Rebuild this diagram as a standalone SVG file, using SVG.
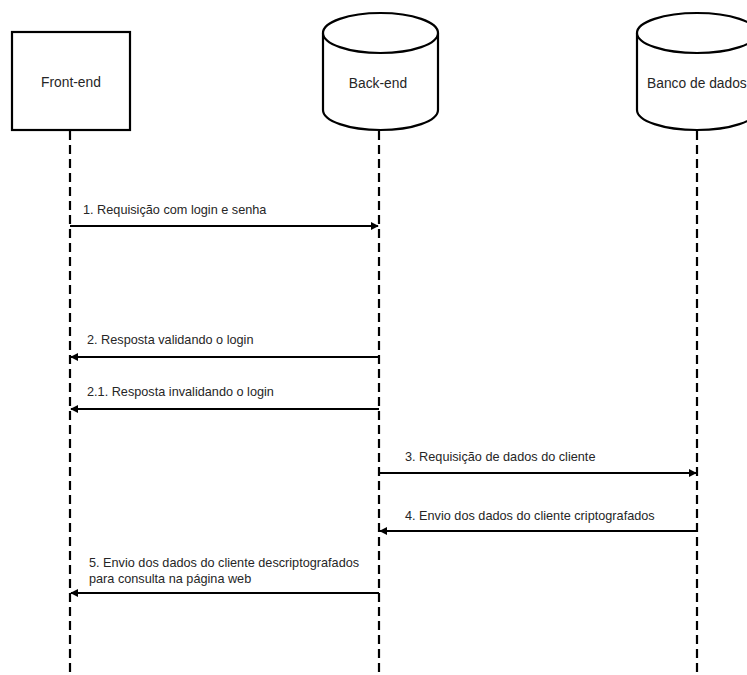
<svg xmlns="http://www.w3.org/2000/svg" width="747" height="675" viewBox="0 0 747 675">
<style>
.shape{fill:#fff;stroke:#000;stroke-width:2.2}
.life{stroke:#000;stroke-width:2.2;stroke-dasharray:9 5;fill:none}
.msg{stroke:#000;stroke-width:2;fill:none}
text{font-family:"Liberation Sans",Arial,sans-serif;font-size:12.7px;fill:#262626}
.lbl{font-size:13.8px;text-anchor:middle}
</style>
<defs>
<marker id="ah" viewBox="0 0 10 10" refX="9" refY="5" markerWidth="4" markerHeight="4" orient="auto-start-reverse">
<path d="M0,0 L10,5 L0,10 z" fill="#000"/>
</marker>
</defs>
<rect width="747" height="675" fill="#fff"/>
<g id="lifelines">
<line class="life" x1="70" y1="131" x2="70" y2="675"/>
<line class="life" x1="379" y1="131" x2="379" y2="675"/>
<line class="life" x1="697" y1="131" x2="697" y2="675"/>
</g>
<g id="front-end">
<rect class="shape" x="12" y="32" width="118" height="98"/>
<text class="lbl" x="71" y="87">Front-end</text>
</g>
<g id="back-end">
<path class="shape" d="M323,33 L323,110 A57.5,20 0 0 0 438,110 L438,33 A57.5,20 0 0 0 323,33 Z"/>
<path class="shape" d="M323,33 A57.5,20 0 0 0 438,33" fill="none"/>
<text class="lbl" x="378" y="88">Back-end</text>
</g>
<g id="banco-de-dados">
<path class="shape" d="M637,33 L637,110 A60,20 0 0 0 757,110 L757,33 A60,20 0 0 0 637,33 Z"/>
<path class="shape" d="M637,33 A60,20 0 0 0 757,33" fill="none"/>
<text x="647" y="88" style="font-size:13.8px">Banco de dados</text>
</g>
<g id="connectors">
<line class="msg" x1="70" y1="226" x2="378" y2="226" marker-end="url(#ah)"/>
<line class="msg" x1="379" y1="357" x2="71" y2="357" marker-end="url(#ah)"/>
<line class="msg" x1="379" y1="409" x2="71" y2="409" marker-end="url(#ah)"/>
<line class="msg" x1="379" y1="473" x2="696" y2="473" marker-end="url(#ah)"/>
<line class="msg" x1="697" y1="531" x2="380" y2="531" marker-end="url(#ah)"/>
<line class="msg" x1="379" y1="593" x2="71" y2="593" marker-end="url(#ah)"/>
</g>
<g id="labels">
<text x="83" y="214">1. Requisição com login e senha</text>
<text x="87" y="344">2. Resposta validando o login</text>
<text x="87" y="396">2.1. Resposta invalidando o login</text>
<text x="405" y="461">3. Requisição de dados do cliente</text>
<text x="405" y="520">4. Envio dos dados do cliente criptografados</text>
<text x="89" y="567">5. Envio dos dados do cliente descriptografados</text>
<text x="89" y="583">para consulta na página web</text>
</g>
</svg>
